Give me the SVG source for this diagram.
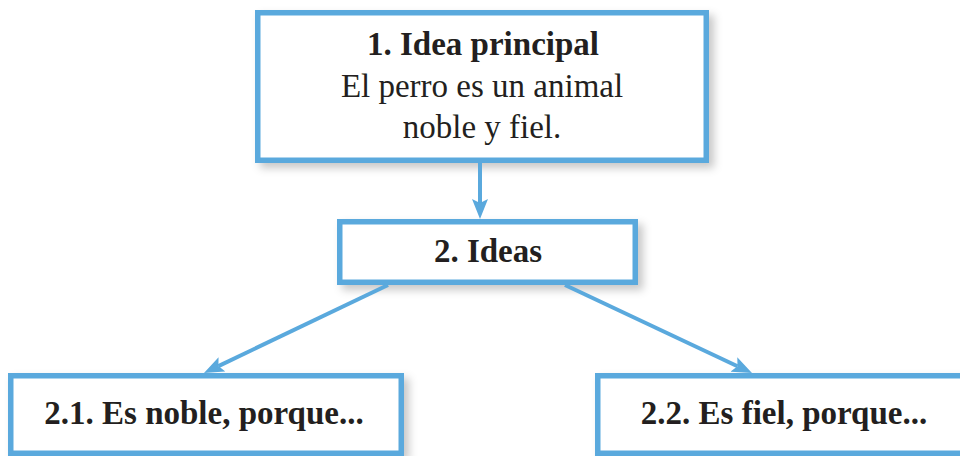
<svg xmlns="http://www.w3.org/2000/svg" width="960" height="456" viewBox="0 0 960 456">
  <style>
    .box { fill: #ffffff; stroke: #5aa9dd; stroke-width: 5.5; }
    .conn { stroke: #5aa9dd; stroke-width: 4; fill: none; }
    .t { font-family: "Liberation Serif", "Times New Roman", serif; font-size: 33px; fill: #231f20; text-anchor: middle; }
    .b { font-weight: bold; }
  </style>
  <defs>
    <filter id="sh" x="-10%" y="-20%" width="130%" height="150%">
      <feDropShadow dx="5" dy="5" stdDeviation="4" flood-color="#000000" flood-opacity="0.22"/>
    </filter>
    <marker id="ah" viewBox="0 0 20 16" refX="4" refY="8" markerWidth="20" markerHeight="16" markerUnits="userSpaceOnUse" orient="auto">
      <path d="M0,0 L20,8 L0,16 L4,8 z" fill="#5aa9dd"/>
    </marker>
  </defs>
  <rect width="960" height="456" fill="#ffffff"/>

  <g id="node-1">
    <rect class="box" x="257.75" y="12.75" width="448.5" height="147.5" filter="url(#sh)"/>
    <text class="t b" x="483" y="55">1. Idea principal</text>
    <text class="t" x="482" y="97">El perro es un animal</text>
    <text class="t" x="482" y="138">noble y fiel.</text>
  </g>

  <g id="node-2">
    <rect class="box" x="339.75" y="221.75" width="295.5" height="60.5" filter="url(#sh)"/>
    <text class="t b" x="488" y="262">2. Ideas</text>
  </g>

  <g id="node-2-1">
    <rect class="box" x="10.75" y="375.75" width="390.5" height="77.5" filter="url(#sh)"/>
    <text class="t b" x="204" y="424">2.1. Es noble, porque...</text>
  </g>

  <g id="node-2-2">
    <rect class="box" x="597.75" y="375.75" width="400" height="77.5" filter="url(#sh)"/>
    <text class="t b" x="784" y="424">2.2. Es fiel, porque...</text>
  </g>

  <g id="connectors">
    <line class="conn" x1="480" y1="163" x2="480" y2="203" marker-end="url(#ah)"/>
    <line class="conn" x1="388" y1="285" x2="218.4" y2="366.1" marker-end="url(#ah)"/>
    <line class="conn" x1="565" y1="285" x2="737.5" y2="366.2" marker-end="url(#ah)"/>
  </g>
</svg>
